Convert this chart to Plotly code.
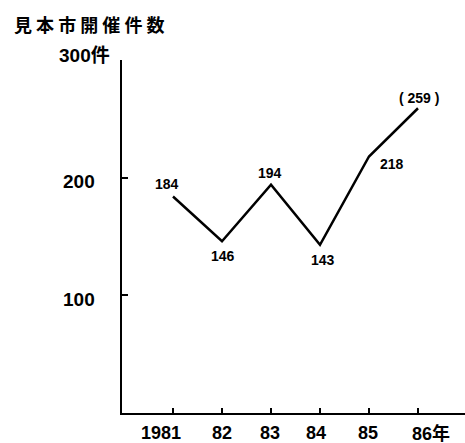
import plotly.graph_objects as go

# Trade fairs held per year
years = [1981, 1982, 1983, 1984, 1985, 1986]
counts = [184, 146, 194, 143, 218, 259]
value_labels = ["184", "146", "194", "143", "218", "( 259 )"]
year_labels = ["1981", "82", "83", "84", "85", "86年"]
y_ticks = [100, 200, 300]
y_tick_labels = ["100", "200", "300件"]

W, H = 465, 443
L, R, T, B = 122, 0, 60, 30

num_font = "Liberation Sans, Arial, Noto Sans CJK JP"

fig = go.Figure()
fig.add_trace(go.Scatter(
    x=years, y=counts, mode="lines",
    line=dict(color="black", width=2.5),
    hoverinfo="skip", showlegend=False,
))

# per-point label offsets (pixels)
offsets = [(-6, 12), (1, -15), (-1, 12), (3, -15), (23, -8), (1, 10)]
for x, y, t, (dx, dy) in zip(years, counts, value_labels, offsets):
    fig.add_annotation(
        x=x, y=y, text=f"<b>{t}</b>", showarrow=False,
        xshift=dx, yshift=dy, yanchor="middle",
        font=dict(family=num_font, size=14, color="black"),
    )

# x tick labels
x_shift = [-12, 0, -1, -4, -1, 13]
for x, t, dx in zip(years, year_labels, x_shift):
    fig.add_annotation(
        x=x, y=0, xref="x", yref="y", text=f"<b>{t}</b>", showarrow=False,
        xshift=dx, yshift=-20, yanchor="middle",
        font=dict(family=num_font, size=18, color="black"),
    )

# y tick labels (unit character hangs past the digits)
y_left = [61, 61, 57]
y_shift = [-4, -4, 5]
for y, t, xl, dy in zip(y_ticks, y_tick_labels, y_left, y_shift):
    fig.add_annotation(
        x=(xl - L) / (W - L - R), xref="paper", y=y, yref="y",
        text=f"<b>{t}</b>", showarrow=False, xanchor="left", yanchor="middle",
        yshift=dy,
        font=dict(family=num_font, size=19, color="black"),
    )

# axis title
fig.add_annotation(
    x=(12 - L) / (W - L - R), xref="paper", y=(H - 24 - B) / (H - T - B), yref="paper",
    text="<b>見 本 市 開 催 件 数</b>", showarrow=False,
    xanchor="left", yanchor="middle",
    font=dict(family="Noto Sans CJK JP", size=18, color="black"),
)

fig.update_layout(
    width=W, height=H,
    margin=dict(l=L, r=R, t=T, b=B, pad=0),
    plot_bgcolor="white", paper_bgcolor="white",
    xaxis=dict(
        range=[1981 - 51 / 49, 1986 + 47 / 49],
        tickvals=years, ticks="inside", ticklen=5, tickwidth=2, tickcolor="black",
        showticklabels=False, showgrid=False, zeroline=False,
        showline=True, linecolor="black", linewidth=2,
    ),
    yaxis=dict(
        range=[0, 300],
        tickvals=y_ticks, ticks="inside", ticklen=6, tickwidth=2, tickcolor="black",
        showticklabels=False, showgrid=False, zeroline=False,
        showline=True, linecolor="black", linewidth=2,
    ),
)

fig.write_html("out.html")
